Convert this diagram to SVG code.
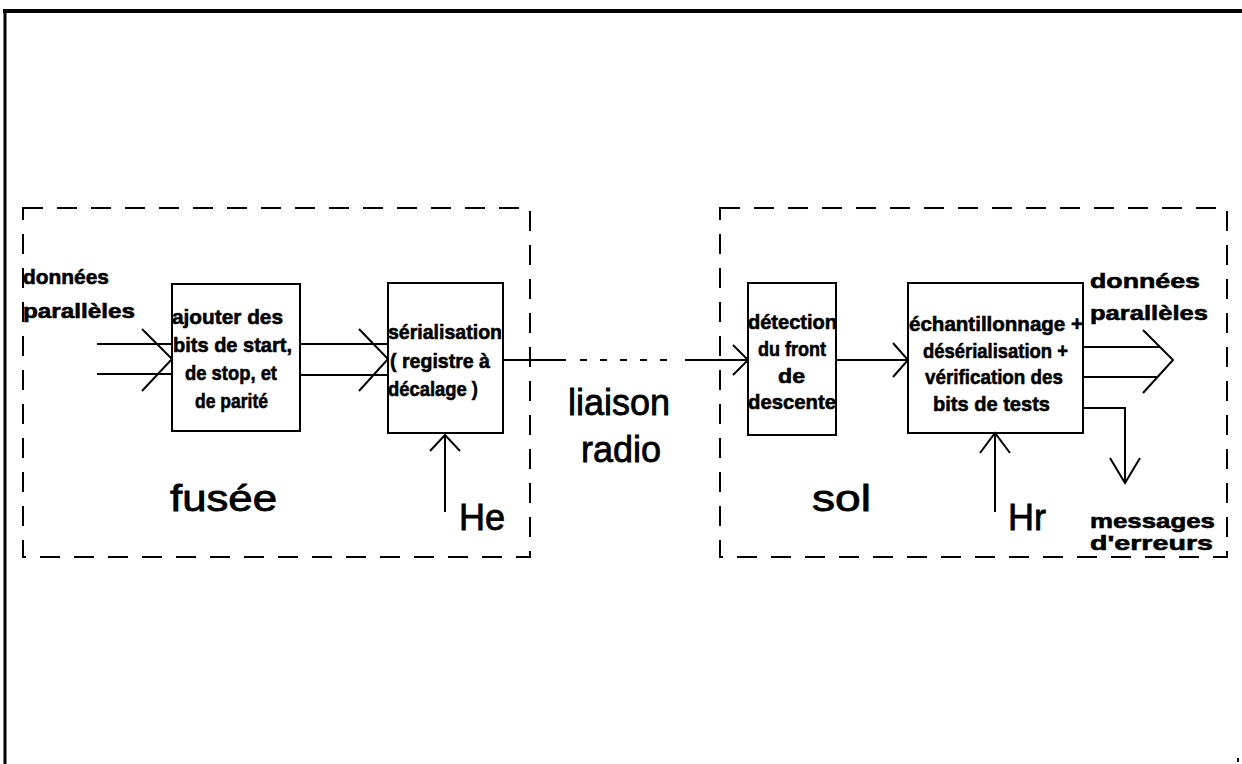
<svg xmlns="http://www.w3.org/2000/svg" width="1242" height="764" viewBox="0 0 1242 764">
<style>
.frame{stroke:#000;fill:none}
.zone{stroke:#000;stroke-width:2;fill:none;stroke-dasharray:20 14}
.box{stroke:#000;stroke-width:2;fill:#fff}
.ln{stroke:#000;stroke-width:2;fill:none}
.lbl{font-family:"Liberation Sans",Arial,sans-serif;font-weight:bold;font-size:21px;fill:#000;stroke:#000;stroke-width:0.6}
.big{font-family:"Liberation Sans",Arial,sans-serif;font-size:36px;fill:#000;stroke:#000;stroke-width:0.8}
.mid{text-anchor:middle}
</style>
<rect width="1242" height="764" fill="#fff"/>
<g id="frame">
<line class="frame" x1="3" y1="11" x2="1242" y2="11" stroke-width="4"/>
<line class="frame" x1="5" y1="9" x2="5" y2="764" stroke-width="3"/>
<rect x="1237" y="758" width="2" height="4" fill="#000"/>
</g>
<g id="zone-fusee">
<rect class="zone" x="23" y="208" width="507" height="349"/>
<text class="big" x="170" y="511" font-size="48" textLength="107" lengthAdjust="spacingAndGlyphs">fusée</text>
</g>
<g id="zone-sol">
<rect class="zone" x="720" y="208" width="507" height="349"/>
<text class="big" x="812" y="511" font-size="48" textLength="59" lengthAdjust="spacingAndGlyphs">sol</text>
</g>
<g id="in-label">
<text class="lbl" x="23" y="284" textLength="86" lengthAdjust="spacingAndGlyphs">données</text>
<text class="lbl" x="23" y="318" textLength="112" lengthAdjust="spacingAndGlyphs">parallèles</text>
</g>
<g id="box1">
<rect class="box" x="172" y="284" width="128" height="147"/>
<text class="lbl" x="172" y="324" textLength="111" lengthAdjust="spacingAndGlyphs">ajouter des</text>
<text class="lbl" x="173" y="352" textLength="119" lengthAdjust="spacingAndGlyphs">bits de start,</text>
<text class="lbl" x="185" y="380" textLength="92" lengthAdjust="spacingAndGlyphs">de stop, et</text>
<text class="lbl" x="195" y="408" textLength="73" lengthAdjust="spacingAndGlyphs">de parité</text>
</g>
<g id="box2">
<rect class="box" x="388" y="283" width="115" height="150"/>
<text class="lbl" x="388" y="339" textLength="114" lengthAdjust="spacingAndGlyphs">sérialisation</text>
<text class="lbl" x="390" y="368" textLength="100" lengthAdjust="spacingAndGlyphs">( registre à</text>
<text class="lbl" x="388" y="396" textLength="90" lengthAdjust="spacingAndGlyphs">décalage )</text>
</g>
<g id="he">
<text class="big" x="459" y="530" font-size="35">He</text>
</g>
<g id="liaison">
<text class="big mid" x="619" y="415">liaison</text>
<text class="big mid" x="621" y="462">radio</text>
</g>
<g id="box3">
<rect class="box" x="748" y="283" width="88" height="152"/>
<text class="lbl" x="748" y="329" textLength="89" lengthAdjust="spacingAndGlyphs">détection</text>
<text class="lbl" x="758" y="356" textLength="68" lengthAdjust="spacingAndGlyphs">du front</text>
<text class="lbl" x="778" y="383" textLength="27" lengthAdjust="spacingAndGlyphs">de</text>
<text class="lbl" x="748" y="409" textLength="88" lengthAdjust="spacingAndGlyphs">descente</text>
</g>
<g id="box4">
<rect class="box" x="908" y="283" width="175" height="150"/>
<text class="lbl" x="909" y="331" textLength="174" lengthAdjust="spacingAndGlyphs">échantillonnage +</text>
<text class="lbl" x="923" y="358" textLength="145" lengthAdjust="spacingAndGlyphs">désérialisation +</text>
<text class="lbl" x="925" y="384" textLength="138" lengthAdjust="spacingAndGlyphs">vérification des</text>
<text class="lbl" x="933" y="411" textLength="117" lengthAdjust="spacingAndGlyphs">bits de tests</text>
</g>
<g id="hr">
<text class="big" x="1008" y="530" font-size="36">Hr</text>
</g>
<g id="out-label">
<text class="lbl" x="1090" y="288" textLength="110" lengthAdjust="spacingAndGlyphs">données</text>
<text class="lbl" x="1090" y="320" textLength="118" lengthAdjust="spacingAndGlyphs">parallèles</text>
</g>
<g id="err-label">
<text class="lbl" x="1090" y="528" textLength="125" lengthAdjust="spacingAndGlyphs">messages</text>
<text class="lbl" x="1090" y="550" textLength="123" lengthAdjust="spacingAndGlyphs">d'erreurs</text>
</g>
<g id="connectors">
<line class="ln" x1="97" y1="344" x2="172" y2="344"/>
<line class="ln" x1="97" y1="374" x2="172" y2="374"/>
<polyline class="ln" points="142,329 172,359 142,391"/>
<line class="ln" x1="300" y1="344" x2="388" y2="344"/>
<line class="ln" x1="300" y1="375" x2="388" y2="375"/>
<polyline class="ln" points="359,329 388,359 359,391"/>
<line class="ln" x1="503" y1="360" x2="566" y2="360"/>
<line class="ln" x1="580" y1="360" x2="672" y2="360" stroke-dasharray="7 13"/>
<line class="ln" x1="685" y1="360" x2="748" y2="360"/>
<polyline class="ln" points="733,345 748,360 733,375"/>
<line class="ln" x1="445" y1="512" x2="445" y2="435"/>
<polyline class="ln" points="430,451 445,435 460,451"/>
<line class="ln" x1="836" y1="360" x2="908" y2="360"/>
<polyline class="ln" points="893,343 908,360 893,377"/>
<line class="ln" x1="1083" y1="347" x2="1160" y2="347"/>
<line class="ln" x1="1083" y1="377" x2="1158" y2="377"/>
<polyline class="ln" points="1143,330 1173,360 1143,393"/>
<polyline class="ln" points="1083,408 1125,408 1125,483"/>
<polyline class="ln" points="1110,458 1125,483 1140,458"/>
<line class="ln" x1="995" y1="512" x2="995" y2="433"/>
<polyline class="ln" points="980,453 995,433 1010,453"/>
</g>
</svg>
